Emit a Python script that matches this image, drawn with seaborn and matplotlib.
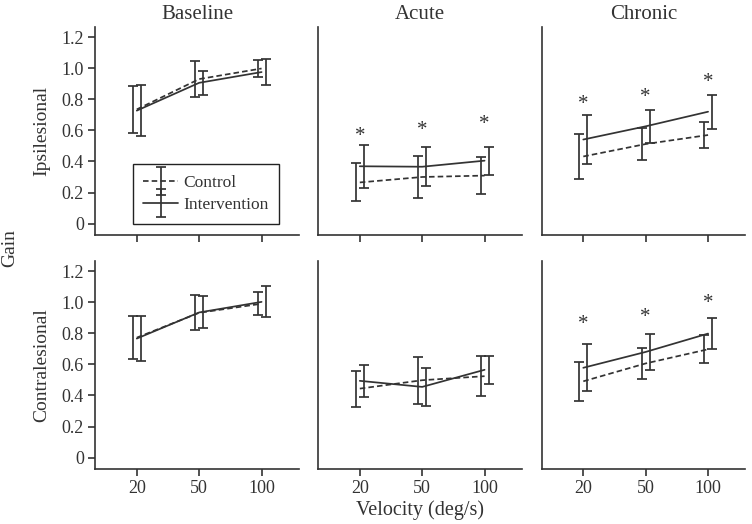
import numpy as np
import pandas as pd
import seaborn as sns
import matplotlib.pyplot as plt
from matplotlib.legend_handler import HandlerErrorbar

conditions = ['Baseline', 'Acute', 'Chronic']
sides = ['Ipsilesional', 'Contralesional']
velocities = ['20', '50', '100']
groups = ['Control', 'Intervention']

# gain means / error bars, one list per condition
ipsi_ctrl = [[0.735, 0.930, 0.998], [0.265, 0.300, 0.309], [0.432, 0.512, 0.570]]
ipsi_ctrl_err = [[0.153, 0.117, 0.056], [0.122, 0.134, 0.118], [0.143, 0.104, 0.083]]
ipsi_int = [[0.727, 0.906, 0.975], [0.369, 0.366, 0.405], [0.541, 0.626, 0.720]]
ipsi_int_err = [[0.166, 0.078, 0.083], [0.137, 0.127, 0.091], [0.155, 0.107, 0.109]]

contra_ctrl = [[0.772, 0.932, 0.990], [0.444, 0.498, 0.524], [0.491, 0.606, 0.697]]
contra_ctrl_err = [[0.136, 0.112, 0.073], [0.116, 0.152, 0.129], [0.125, 0.100, 0.091]]
contra_int = [[0.766, 0.934, 1.002], [0.494, 0.455, 0.565], [0.578, 0.680, 0.798]]
contra_int_err = [[0.145, 0.103, 0.100], [0.105, 0.120, 0.090], [0.150, 0.114, 0.100]]

# significance stars (None = no star)
ipsi_stars = [None, [0.583, 0.621, 0.662], [0.790, 0.835, 0.930]]
contra_stars = [None, None, [0.877, 0.922, 1.012]]

yticks = [0, 0.2, 0.4, 0.6, 0.8, 1.0, 1.2]
ytick_labels = ['0', '0.2', '0.4', '0.6', '0.8', '1.0', '1.2']

sns.set_theme(style='ticks')
plt.rcParams['font.family'] = ['Liberation Serif', 'DejaVu Serif']
ink = '#333333'
plt.rcParams.update({'text.color': ink, 'axes.labelcolor': ink,
                     'xtick.color': ink, 'ytick.color': ink,
                     'axes.edgecolor': ink})

fig = plt.figure(figsize=(7.52, 5.24), dpi=100)
W, H = 752, 524
lefts = [95, 318, 541.5]
tops = [27, 261]
aw, ah = 204, 207.5

data = {
    'Ipsilesional': (ipsi_ctrl, ipsi_ctrl_err, ipsi_int, ipsi_int_err, ipsi_stars),
    'Contralesional': (contra_ctrl, contra_ctrl_err, contra_int, contra_int_err, contra_stars),
}

pos = np.arange(len(velocities))
off = 0.065
lw = 1.25

for r, side in enumerate(sides):
    c_m, c_e, i_m, i_e, stars = data[side]
    for c, cond in enumerate(conditions):
        ax = fig.add_axes([lefts[c] / W, 1 - (tops[r] + ah) / H, aw / W, ah / H])
        df = pd.DataFrame({
            'pos': np.concatenate([pos, pos]),
            'gain': c_m[c] + i_m[c],
            'group': ['Control'] * 3 + ['Intervention'] * 3,
        })
        sns.lineplot(data=df, x='pos', y='gain', style='group', color=ink,
                     dashes={'Control': (3.2, 1.8), 'Intervention': ''},
                     linewidth=lw, legend=False, ax=ax)
        ax.errorbar(pos - off, c_m[c], yerr=c_e[c], fmt='none', ecolor=ink,
                    elinewidth=lw, capsize=3.3, capthick=lw)
        ax.errorbar(pos + off, i_m[c], yerr=i_e[c], fmt='none', ecolor=ink,
                    elinewidth=lw, capsize=3.3, capthick=lw)
        if stars[c] is not None:
            for p, s in zip(pos, stars[c]):
                # asterisk glyph sits high in its box, nudge it down a bit
                ax.annotate('*', (p, s), xytext=(0, -2.5), textcoords='offset points',
                            ha='center', va='center', fontsize=15, color=ink)

        ax.set_xlim(-0.67, 2.6)
        ax.set_ylim(-0.07, 1.265)
        ax.set_xticks(pos)
        ax.set_yticks(yticks)
        ax.set_xlabel('')
        ax.set_ylabel('')
        sns.despine(ax=ax)
        for sp in ['left', 'bottom']:
            ax.spines[sp].set_linewidth(1.2)
        ax.tick_params(length=5, width=1.2, labelsize=13, pad=3)
        if r == 1:
            ax.set_xticklabels(velocities)
        else:
            ax.set_xticklabels([])
            ax.set_title(cond, fontsize=15, pad=6, color=ink)
        if c == 0:
            ax.set_yticklabels(ytick_labels)
        else:
            ax.set_yticklabels([])
            ax.tick_params(axis='y', length=0)
        if r == 0 and c == 0:
            h1 = ax.errorbar([np.nan], [np.nan], yerr=[np.nan], color=ink, ls=(0, (3.2, 1.8)),
                             lw=lw, capsize=3.3, capthick=lw)
            h2 = ax.errorbar([np.nan], [np.nan], yerr=[np.nan], color=ink, ls='-',
                             lw=lw, capsize=3.3, capthick=lw)
            leg = ax.legend([h1, h2], groups, loc='lower left',
                            bbox_to_anchor=(0.186, 0.053), borderaxespad=0,
                            fontsize=12.5, frameon=True, fancybox=False,
                            handlelength=2.0, handletextpad=0.3,
                            borderpad=0.6, labelspacing=0.35,
                            handler_map={type(h1): HandlerErrorbar(yerr_size=0.8)})
            leg.get_frame().set_edgecolor('#222222')
            leg.get_frame().set_linewidth(1.0)
            leg.get_frame().set_alpha(1)

    # row label
    fig.text(42 / W, 1 - (tops[r] + ah / 2) / H, side, rotation=90,
             ha='center', va='center', fontsize=14)

fig.text(10 / W, 1 - 248 / H, 'Gain', rotation=90, ha='center', va='center', fontsize=14)
fig.text(420 / W, 1 - 510 / H, 'Velocity (deg/s)', ha='center', va='center', fontsize=14.5)

fig.savefig('out.png', dpi=100)
